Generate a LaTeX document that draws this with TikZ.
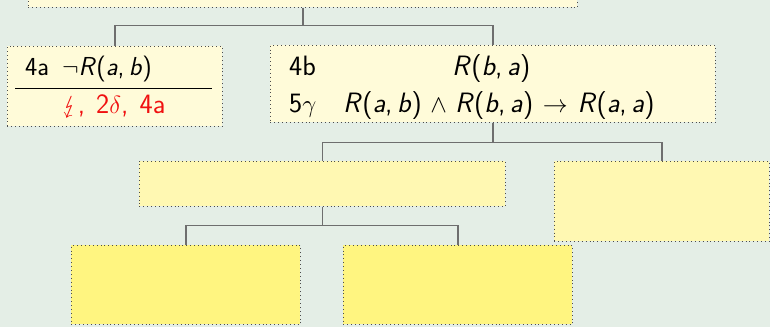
\documentclass[tikz,border=0pt]{standalone}
\usepackage{fontspec}
\usepackage{stmaryrd}
\definecolor{bg}{HTML}{E4EEE6}
\definecolor{fillA}{HTML}{FFFBD9}
\definecolor{fillB}{HTML}{FFF8B2}
\definecolor{fillC}{HTML}{FFF580}
\definecolor{connc}{HTML}{6E6E6E}
\definecolor{redc}{HTML}{F01010}
\newcommand{\vi}[1]{\textit{#1}}
\begin{document}
\begin{tikzpicture}[x=1pt,y=-1pt,
  box/.style={draw=black!70, line width=0.8pt, dash pattern=on 0.9pt off 3pt, inner sep=0pt, anchor=north west, rectangle},
  conn/.style={draw=connc, line width=1.2pt},
  txt/.style={font=\sffamily\fontsize{28}{32}\selectfont, inner sep=0pt, anchor=base west},
  txtsmall/.style={font=\sffamily\fontsize{26}{30}\selectfont, inner sep=0pt, anchor=base west}]
\useasboundingbox (0,0) rectangle (770,327);
\fill[bg] (0,0) rectangle (770,327);
% boxes
\node[box, fill=fillA, minimum width=549pt, minimum height=37pt] (top) at (28,-30) {};
\node[box, fill=fillA, minimum width=215pt, minimum height=80pt] (a4) at (7,46) {};
\node[box, fill=fillA, minimum width=445pt, minimum height=77pt] (b4) at (270,45) {};
\node[box, fill=fillB, minimum width=366pt, minimum height=45pt] (m1) at (139,161) {};
\node[box, fill=fillB, minimum width=215pt, minimum height=80pt] (m2) at (554,161) {};
\node[box, fill=fillC, minimum width=229pt, minimum height=79pt] (l1) at (71,245) {};
\node[box, fill=fillC, minimum width=229pt, minimum height=79pt] (l2) at (343,245) {};
% connectors
\draw[conn] (top.south) -- ++(0,18) -| (a4.north);
\draw[conn] (top.south) -- ++(0,18) -| (b4.north);
\draw[conn] (b4.south) -- ++(0,20) -| (m1.north);
\draw[conn] (b4.south) -- ++(0,20) -| (m2.north);
\draw[conn] (m1.south) -- ++(0,19) -| (l1.north);
\draw[conn] (m1.south) -- ++(0,19) -| (l2.north);
% texts box 4a
\node[txtsmall] (t4a) at (25,75) {4a\hspace{0.5em}\(\neg\)\vi{R}(\vi{a},\,\vi{b})};
\draw[line width=0.9pt] (15,88) -- (212,88);
\node[txt, anchor=base, text=redc] (tred) at (114,113) {\(\lightning\),\hspace{0.4em}2\(\delta\),\hspace{0.4em}4a};
% texts box 4b
\node[txt] (t4b) at (289,75) {4b};
\node[txt] (f4b) at (452,75) {\vi{R}(\vi{b},\,\vi{a})};
\node[txt] (t5g) at (289,112) {5\(\gamma\)};
\node[txt] (f5g) at (343,112) {\vi{R}(\vi{a},\,\vi{b})\(\mskip6mu\wedge\mskip6mu\)\vi{R}(\vi{b},\,\vi{a})\(\mskip7mu\rightarrow\mskip7mu\)\vi{R}(\vi{a},\,\vi{a})};
\end{tikzpicture}
\end{document}
